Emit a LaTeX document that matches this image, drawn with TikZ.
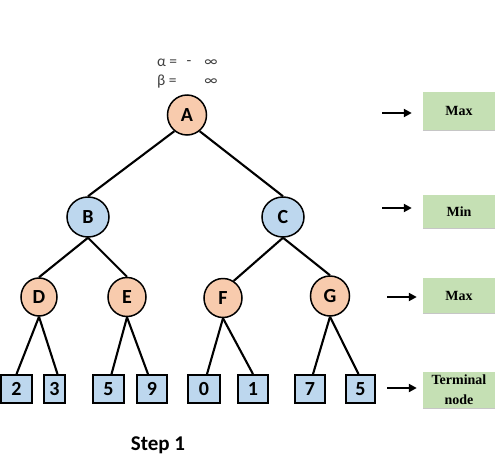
\documentclass[tikz,border=0pt]{standalone}
\usepackage{fontspec}
\setmainfont{Liberation Serif}
\newfontfamily\calib{Carlito}
\usetikzlibrary{arrows.meta,shapes.geometric}
\definecolor{orfill}{HTML}{F8CBAD}
\definecolor{blfill}{HTML}{BDD7EE}
\definecolor{grfill}{HTML}{C5E0B4}
\definecolor{txtgray}{HTML}{404040}
\begin{document}
\begin{tikzpicture}[x=1pt,y=-1pt,
  maxnode/.style={ellipse,draw=black,line width=1.5pt,fill=orfill,inner sep=0pt,font=\calib\bfseries\fontsize{20}{20}\selectfont},
  minnode/.style={ellipse,draw=black,line width=1.5pt,fill=blfill,inner sep=0pt,font=\calib\bfseries\fontsize{20}{20}\selectfont},
  leaf/.style={rectangle,draw=black,line width=1.8pt,fill=blfill,inner sep=0pt,minimum height=28pt,font=\calib\bfseries\fontsize{20}{20}\selectfont},
  edge/.style={line width=2.1pt,black},
  lab/.style={rectangle,fill=grfill,inner sep=0pt,minimum width=72pt,align=center,font=\bfseries\fontsize{14}{20}\selectfont},
  arr/.style={line width=2.6pt,-{Triangle[length=8pt,width=8pt]}},
  greek/.style={font=\calib\fontsize{15.5}{15.5}\selectfont,text=txtgray,inner sep=0pt}
]
\useasboundingbox (0,0) rectangle (501,472);
% alpha / beta
\node[greek,anchor=west] (al) at (157,63) {α =};
\node[greek] (mi) at (189,63) {-};
\node[greek] (inf1) at (211,63) {∞};
\node[greek,anchor=west] (be) at (157,82) {β =};
\node[greek] (inf2) at (211,82) {∞};
% tree nodes
\node[maxnode,minimum width=39pt,minimum height=40pt] (A) at (187,115) {A};
\node[minnode,minimum width=42pt,minimum height=40pt] (B) at (88,217) {B};
\node[minnode,minimum width=42pt,minimum height=40pt] (C) at (283,217) {C};
\node[maxnode,minimum width=36pt,minimum height=38pt] (D) at (39,297) {D};
\node[maxnode,minimum width=38pt,minimum height=39pt] (E) at (127,297) {E};
\node[maxnode,minimum width=38pt,minimum height=39pt] (F) at (223,298) {F};
\node[maxnode,minimum width=39pt,minimum height=40pt] (G) at (330,296) {G};
% leaves
\node[leaf,minimum width=31pt] (l1) at (16.5,389) {2};
\node[leaf,minimum width=21pt] (l2) at (54.5,389) {3};
\node[leaf,minimum width=31pt] (l3) at (108.5,389) {5};
\node[leaf,minimum width=30pt] (l4) at (152,389) {9};
\node[leaf,minimum width=32pt] (l5) at (204,389) {0};
\node[leaf,minimum width=30pt] (l6) at (253,389) {1};
\node[leaf,minimum width=30pt] (l7) at (310,389) {7};
\node[leaf,minimum width=29pt] (l8) at (360.5,389) {5};
% edges
\draw[edge] (A.232) -- (B.north);
\draw[edge] (A.308) -- (C.north);
\draw[edge] (B.south) -- (D.north);
\draw[edge] (B.south) -- (E.north);
\draw[edge] (C.south) -- (F.58);
\draw[edge] (C.south) -- (G.north);
\draw[edge] (D.south) -- (l1.north);
\draw[edge] (D.south) -- ([xshift=3pt]l2.north);
\draw[edge] (E.south) -- ([xshift=3pt]l3.north);
\draw[edge] (E.south) -- ([xshift=-4pt]l4.north);
\draw[edge] (F.south) -- ([xshift=3pt]l5.north);
\draw[edge] (F.south) -- (l6.north);
\draw[edge] (G.south) -- ([xshift=3pt]l7.north);
\draw[edge] (G.south) -- ([xshift=-2pt]l8.north);
% level labels
\node[lab,minimum height=38pt] (L1) at (459,111) {Max};
\node[lab,minimum height=33pt] (L2) at (459,211.5) {Min};
\node[lab,minimum height=35pt] (L3) at (459,295.5) {Max};
\node[lab,minimum height=36pt] (L4) at (459,390) {Terminal\\node};
\foreach \n in {L1,L2,L3,L4}{\draw[gray!45,line width=0.6pt] (\n.south west) -- (\n.south east);}
% arrows
\coordinate (a1) at (382,113);
\coordinate (a2) at (382,208);
\coordinate (a3) at (387,297);
\coordinate (a4) at (387,388);
\draw[arr,shorten >=11pt] (a1) -- (L1.west |- a1);
\draw[arr,shorten >=11pt] (a2) -- (L2.west |- a2);
\draw[arr,shorten >=6pt] (a3) -- (L3.west |- a3);
\draw[arr,shorten >=6pt] (a4) -- (L4.west |- a4);
% caption
\node[font=\calib\bfseries\fontsize{21}{21}\selectfont,inner sep=0pt] (cap) at (158,445) {Step 1};
\end{tikzpicture}
\end{document}
